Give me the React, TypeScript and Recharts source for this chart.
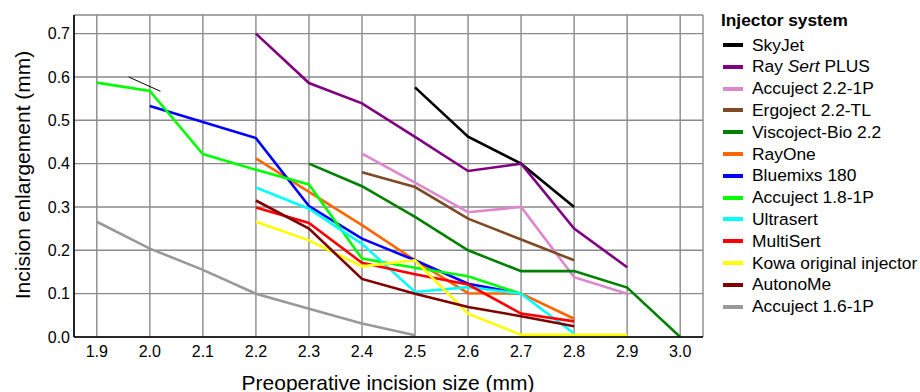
import React from "react";
import { LineChart, Line, XAxis, YAxis, CartesianGrid, ReferenceLine, Label } from "recharts";

// Preoperative incision size (mm)
const xs = [1.9, 2.0, 2.1, 2.2, 2.3, 2.4, 2.5, 2.6, 2.7, 2.8, 2.9, 3.0];
const xTicks = [1.9, 2.0, 2.1, 2.2, 2.3, 2.4, 2.5, 2.6, 2.7, 2.8, 2.9, 3.0];
const yTicks = [0, 0.1, 0.2, 0.3, 0.4, 0.5, 0.6, 0.7];

// Incision enlargement (mm), aligned with xs
const skyJet = [null, null, null, null, null, null, 0.576, 0.462, 0.4, 0.3, null, null];
const raySertPlus = [null, null, null, 0.7, 0.586, 0.539, 0.462, 0.383, 0.4, 0.25, 0.161, null];
const accuject22 = [null, null, null, null, null, 0.423, 0.356, 0.288, 0.3, 0.138, 0.1, null];
const ergoject = [null, null, null, null, null, 0.38, 0.346, 0.273, 0.225, 0.177, null, null];
const viscoject = [null, null, null, null, 0.4, 0.348, 0.277, 0.2, 0.152, 0.152, 0.114, 0.0];
const rayOne = [null, null, null, 0.412, 0.335, 0.258, 0.177, 0.101, 0.1, 0.042, null, null];
const bluemixs = [null, 0.533, 0.496, 0.459, 0.302, 0.227, 0.177, 0.123, 0.1, null, null, null];
const accuject18 = [0.587, 0.568, 0.422, 0.386, 0.352, 0.181, 0.16, 0.14, 0.1, null, null, null];
const ultrasert = [null, null, null, 0.345, 0.296, 0.215, 0.104, 0.115, 0.1, 0.008, null, null];
const multiSert = [null, null, null, 0.299, 0.263, 0.171, 0.145, 0.121, 0.054, 0.036, null, null];
const kowa = [null, null, null, 0.266, 0.223, 0.163, 0.177, 0.054, 0.005, 0.005, 0.005, null];
const autonoMe = [null, null, null, 0.315, 0.25, 0.134, 0.1, 0.069, 0.048, 0.025, null, null];
const accuject16 = [0.266, 0.204, 0.155, 0.1, 0.065, 0.031, 0.004, null, null, null, null, null];

// stray annotation stroke near x=2.0
const strokeStart = { x: 1.96, y: 0.6 };
const strokeEnd = { x: 2.02, y: 0.567 };

const seriesNames = [
  "SkyJet",
  "RaySert PLUS",
  "Accuject 2.2-1P",
  "Ergoject 2.2-TL",
  "Viscoject-Bio 2.2",
  "RayOne",
  "Bluemixs 180",
  "Accuject 1.8-1P",
  "Ultrasert",
  "MultiSert",
  "Kowa original injector",
  "AutonoMe",
  "Accuject 1.6-1P",
];
const seriesValues = [
  skyJet, raySertPlus, accuject22, ergoject, viscoject, rayOne, bluemixs,
  accuject18, ultrasert, multiSert, kowa, autonoMe, accuject16,
];
const seriesColors = [
  "#000000", "#800080", "#dd88cc", "#7f4a26", "#008000", "#ff6600", "#0000ff",
  "#00ff00", "#00ffff", "#ff0000", "#ffff00", "#800000", "#999999",
];

const data = xs.map((x, i) => {
  const row: Record<string, number | null> = { x };
  seriesNames.forEach((n, s) => {
    row[n] = seriesValues[s][i];
  });
  return row;
});

const FONT = "'Liberation Sans', Arial, Helvetica, sans-serif";

const legendLabel = (name: string) =>
  name === "RaySert PLUS" ? (
    <span>
      Ray <i>Sert</i> PLUS
    </span>
  ) : (
    <span>{name}</span>
  );

export default function App() {
  return (
    <div style={{ position: "absolute", left: 0, top: 0, width: 920, height: 392, fontFamily: FONT, background: "#fff" }}>
      <LineChart
        width={920}
        height={392}
        data={data}
        margin={{ top: 15, right: 217, bottom: 0, left: 0 }}
        style={{ fontFamily: FONT }}
      >
        <CartesianGrid stroke="#8a8a8a" strokeWidth={1.4} />
        <XAxis
          dataKey="x"
          type="number"
          domain={[1.857, 3.043]}
          ticks={xTicks}
          allowDataOverflow
          height={55}
          tickLine={false}
          tickSize={0}
          tickMargin={9}
          axisLine={{ stroke: "#000", strokeWidth: 1.6 }}
          tick={{ fill: "#000", fontSize: 16, fontFamily: FONT }}
          tickFormatter={(v: number) => v.toFixed(1)}
        >
          <Label
            content={() => (
              <text x={388} y={389.5} textAnchor="middle" fill="#000" fontSize={21} fontFamily={FONT}>
                Preoperative incision size (mm)
              </text>
            )}
          />
        </XAxis>
        <YAxis
          type="number"
          domain={[0, 0.743]}
          ticks={yTicks}
          allowDataOverflow
          width={74}
          tickLine={false}
          tickSize={0}
          tickMargin={4}
          axisLine={{ stroke: "#000", strokeWidth: 1.6 }}
          tick={{ fill: "#000", fontSize: 16, fontFamily: FONT }}
          tickFormatter={(v: number) => v.toFixed(1)}
        >
          <Label
            content={() => (
              <text
                x={22}
                y={175}
                transform="rotate(-90 22 175)"
                textAnchor="middle"
                dominantBaseline="central"
                fill="#000"
                fontSize={21}
                fontFamily={FONT}
              >
                Incision enlargement (mm)
              </text>
            )}
          />
        </YAxis>
        <ReferenceLine segment={[strokeStart, strokeEnd]} stroke="#000" strokeWidth={1} ifOverflow="visible" />
        {seriesNames.map((n, s) => (
          <Line
            key={n}
            dataKey={n}
            type="linear"
            stroke={seriesColors[s]}
            strokeWidth={2.6}
            dot={false}
            activeDot={false}
            isAnimationActive={false}
          />
        ))}
      </LineChart>
      <div
        style={{
          position: "absolute",
          left: 721,
          top: 9,
          fontSize: 17.3,
          fontWeight: "bold",
          lineHeight: "22px",
          color: "#000",
          whiteSpace: "nowrap",
        }}
      >
        Injector system
      </div>
      {seriesNames.map((n, s) => (
        <div
          key={n}
          style={{
            position: "absolute",
            left: 723,
            top: 45 + s * 21.8 - 11,
            height: 22,
            display: "flex",
            alignItems: "center",
            whiteSpace: "nowrap",
            fontSize: 17.4,
            color: "#000",
          }}
        >
          <div style={{ width: 20, height: 4, background: seriesColors[s], marginRight: 9 }} />
          {legendLabel(n)}
        </div>
      ))}
    </div>
  );
}
